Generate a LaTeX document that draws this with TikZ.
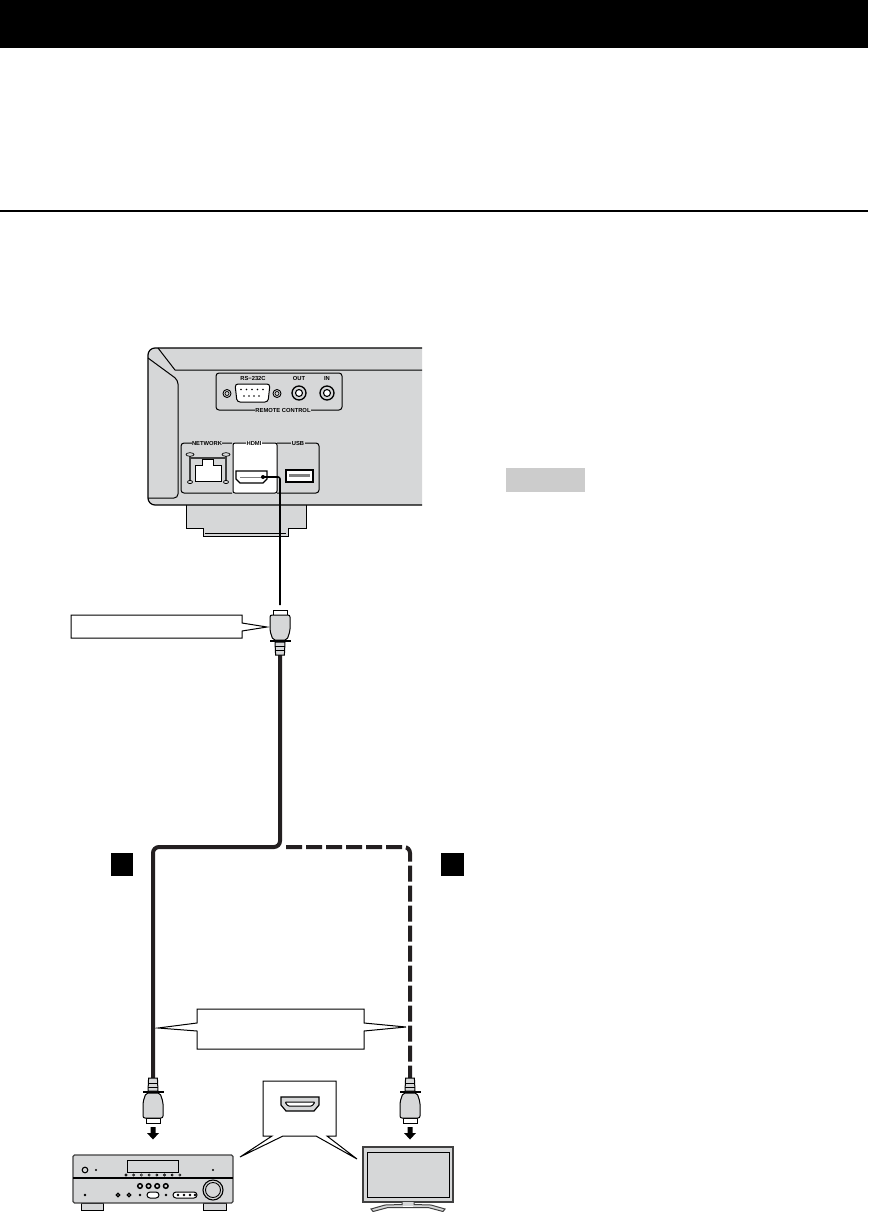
\documentclass[tikz,border=0pt]{standalone}
\usepackage{fontspec}
\setsansfont{Liberation Sans}
\usetikzlibrary{calc}
\definecolor{panelgray}{HTML}{D6D7D8}
\definecolor{notegray}{HTML}{CCCCCC}
\definecolor{cableblack}{HTML}{231F20}
\tikzset{
    thinline/.style={draw=black, line width=1pt},
    callout/.style={draw=black, fill=white, line width=1pt, line join=miter},
    paneltext/.style={font=\sffamily\bfseries\fontsize{5.8}{6}\selectfont, inner sep=0.5pt},
    jack/.style={draw=black, line width=1.1pt, fill=panelgray},
    cablesolid/.style={draw=cableblack, line width=4pt, rounded corners=6pt},
    cabledash/.style={draw=cableblack, line width=4pt, rounded corners=6pt, dash pattern=on 16pt off 4pt},
}
% plug at (#1), tip towards the direction #2 (1 = down, -1 = up)
\newcommand{\hdmiplug}[2]{
    \begin{scope}[shift={(#1)}, yscale=#2]
        \draw[thinline, fill=white] (-7,-16) rectangle (7,-11);
        \draw[thinline, fill=panelgray, rounded corners=2pt] (-10,-11) -- (10,-11) -- (10,5) -- (7,14) -- (-7,14) -- (-10,5) -- cycle;
        \fill[black] (-10.5,14) rectangle (10.5,16.2);
        \draw[thinline, fill=panelgray] (-5,16) -- (5,16) -- (4.4,29) -- (-4.4,29) -- cycle;
        \foreach \y in {20,24} {
            \draw[thinline] (-4.8,\y) -- (4.8,\y);
        }
    \end{scope}
}
\newcommand{\downarrowhead}[1]{
    \fill[black, shift={(#1)}] (-2.5,0) -- (2.5,0) -- (2.5,6) -- (6,6) -- (0,12.5) -- (-6,6) -- (-2.5,6) -- cycle;
}

\begin{document}
\begin{tikzpicture}[x=1pt, y=-1pt]
    \useasboundingbox (0,0) rectangle (868,1212);

    %page
    \fill[black] (0,0) rectangle (868,48);
    \draw[line width=1.6pt] (0,211) -- (868,211);
    \fill[notegray] (506,468) rectangle (585,492);

    %player foot
    \draw[thinline, fill=panelgray] (186,505) -- (186,528) -- (203,528) -- (203,536) -- (288,536) -- (288,528) -- (306,528) -- (306,505);
    \draw[thinline] (205,533.5) -- (286,533.5);

    %player rear panel
    \draw[line width=1.2pt, fill=panelgray, rounded corners=7pt] (422,348) -- (148,348) -- (148,505) -- (422,505);
    \draw[thinline] (158,348) -- (175,370) -- (422,370);
    \draw[thinline, rounded corners=4pt] (148,358) -- (178,380) -- (178,498) -- (148,498);

    %remote control
    \draw[thinline, rounded corners=3pt] (256,410) -- (216,410) -- (216,373) -- (342,373) -- (342,410) -- (310,410);
    \node[paneltext, fill=panelgray] (remotelabel) at (283,410) {REMOTE CONTROL};
    \node[paneltext] (rslabel) at (253,378.5) {RS−232C};
    \node[paneltext] (outlabel) at (299,378.5) {OUT};
    \node[paneltext] (inlabel) at (327,378.5) {IN};
    \draw[thinline, fill=white, rounded corners=3pt] (235,384) -- (270,384) -- (268,402) -- (237,402) -- cycle;
    \foreach \x in {241,246.5,252,257.5,263} {
        \fill (\x,389.5) circle (0.8pt);
    }
    \foreach \x in {244,249,254,259} {
        \fill (\x,396) circle (0.8pt);
    }
    \foreach \x in {227,277} {
        \draw[jack, line width=0.9pt] (\x,393.5) circle (4pt);
        \draw[thinline, line width=0.7pt] (\x,393.5) circle (2pt);
    }
    \foreach \x in {299,327} {
        \draw[jack, line width=1.3pt] (\x,393) circle (7pt);
        \draw[jack, fill=white] (\x,393) circle (3.5pt);
    }

    %lower ports
    \draw[thinline, fill=white, rounded corners=2pt] (233,443) rectangle (277,493);
    \draw[thinline, rounded corners=3pt] (232,493) -- (181,493) -- (181,443) -- (232,443);
    \draw[thinline, rounded corners=3pt] (277,493) -- (319,493) -- (319,443) -- (277,443);
    \node[paneltext, fill=panelgray] (netlabel) at (207,443.5) {NETWORK};
    \node[paneltext, fill=white] (hdmilabel) at (254,443.5) {HDMI};
    \node[paneltext, fill=panelgray] (usblabel) at (298,443.5) {USB};
    % network jack
    \draw[line width=1.8pt, draw=darkgray] (190,456) -- (190,481);
    \draw[line width=1.8pt, draw=darkgray] (226,456) -- (226,481);
    \draw[line width=1.8pt, draw=darkgray] (190,458) -- (226,458);
    \foreach \x in {190,226} {
        \draw[thinline, line width=0.7pt, fill=panelgray] (\x,454.5) ellipse (4pt and 1.8pt);
        \draw[thinline, line width=0.7pt, fill=panelgray] (\x,482) ellipse (2.5pt and 1.6pt);
    }
    \draw[thinline, fill=white] (195,481) -- (195,465) -- (202,465) -- (202,459) -- (213,459) -- (213,465) -- (221,465) -- (221,481) -- cycle;
    % usb jack
    \draw[line width=1.6pt, fill=white] (286,470) rectangle (313,482);
    \fill[gray] (289,474) rectangle (310,476.5);
    % hdmi jack
    \draw[line width=1.2pt, fill=white] (236,471) -- (267,471) -- (267,479) -- (263,483) -- (240,483) -- (236,479) -- cycle;
    \draw[thinline, draw=gray] (240,477) -- (263,477);
    \coordinate (portend) at (263,477);
    \fill (portend) circle (2pt);

    %callouts
    \draw[callout] (71,615) -- (242,615) -- (242,623) -- (267,627) -- (242,631) -- (242,638) -- (71,638) -- cycle;
    \draw[callout] (197,1009) -- (364,1009) -- (364,1023) -- (406,1027) -- (364,1031) -- (364,1049) -- (197,1049) -- (197,1031) -- (158,1028) -- (197,1023) -- cycle;

    %cables
    \coordinate (topplug) at (280,626);
    \coordinate (leftplug) at (153,1107);
    \coordinate (rightplug) at (410,1107);
    \coordinate (junction) at (280,847);

    \draw[black, line width=1.6pt, rounded corners=2pt] (portend) -- (280,477) -- (280,605);
    \draw[cabledash] (286,847) -- (410,847) -- (410,1082);
    \draw[cablesolid] (280,652) -- (junction) -- (153,847) -- (153,1082);
    \hdmiplug{topplug}{1}
    \hdmiplug{leftplug}{-1}
    \hdmiplug{rightplug}{-1}
    \downarrowhead{153,1127}
    \downarrowhead{410,1127}

    %markers
    \fill[black] (111,853) rectangle (133,876);
    \fill[black] (441,853) rectangle (464,876);

    %hdmi input detail
    \draw[callout] (263,1081) -- (336,1081) -- (336,1136) -- (327,1136) -- (357,1159) -- (316,1136) -- (283,1136) -- (240,1157) -- (272,1136) -- (263,1136) -- cycle;
    \draw[line width=1.2pt, fill=panelgray] (281,1097) -- (319,1097) -- (319,1105) -- (314,1111) -- (286,1111) -- (281,1105) -- cycle;
    \draw[thinline, fill=white, rounded corners=1pt] (285,1102) -- (315,1102) -- (312,1106) -- (288,1106) -- cycle;

    %receiver
    \fill[panelgray, draw=black, line width=0.8pt] (81,1203) rectangle (103,1210);
    \fill[panelgray, draw=black, line width=0.8pt] (203,1203) rectangle (226,1210);
    \draw[line width=1.2pt, draw=darkgray, fill=panelgray, rounded corners=1.5pt] (73,1155) rectangle (233,1203);
    \draw[line width=1.6pt] (73,1178) -- (233,1178);
    \draw[thinline, fill=panelgray] (127,1160) rectangle (178,1172);
    \foreach \i in {0,...,7} {
        \draw[thinline, fill=white, line width=0.6pt] (126+\i*7.7,1175) circle (1.1pt);
    }
    \draw[jack] (85,1170) circle (2.8pt);
    \fill (96,1170) circle (1.2pt);
    \fill (213,1170) circle (1.2pt);
    \foreach \i in {0,1,2,3} {
        \draw[jack, line width=1.5pt] (140+\i*8.6,1186) circle (2.3pt);
    }
    \foreach \x in {118,129} {
        \draw[jack, line width=1.3pt] (\x,1195) circle (1.8pt);
    }
    \foreach \x in {85,140,166} {
        \fill (\x,1195) circle (1.3pt);
    }
    \draw[thinline, fill=white, rounded corners=3pt] (147,1192) rectangle (159,1198);
    \draw[thinline, fill=white, rounded corners=3pt] (173,1192) rectangle (197,1198);
    \foreach \x in {178,184,190,195} {
        \fill (\x,1195) circle (1.4pt);
    }
    \draw[jack] (213,1190) circle (10pt);
    \draw[jack, line width=0.9pt] (213,1190) circle (7.5pt);

    %television
    \draw[line width=1.4pt, draw=darkgray, fill=panelgray] (363,1147) rectangle (453,1202);
    \draw[thinline, fill=panelgray] (367,1152) rectangle (449,1197);
    \draw[thinline, draw=darkgray, fill=panelgray] (402,1202) -- (402,1204.5) -- (385,1205) -- (371,1209) -- (373,1211.5) -- (388,1207.5) -- (428,1207.5) -- (443,1211.5) -- (445,1209) -- (431,1205) -- (414,1204.5) -- (414,1202);
    \fill[white] (403,1205.5) rectangle (413,1206.5);
\end{tikzpicture}
\end{document}
